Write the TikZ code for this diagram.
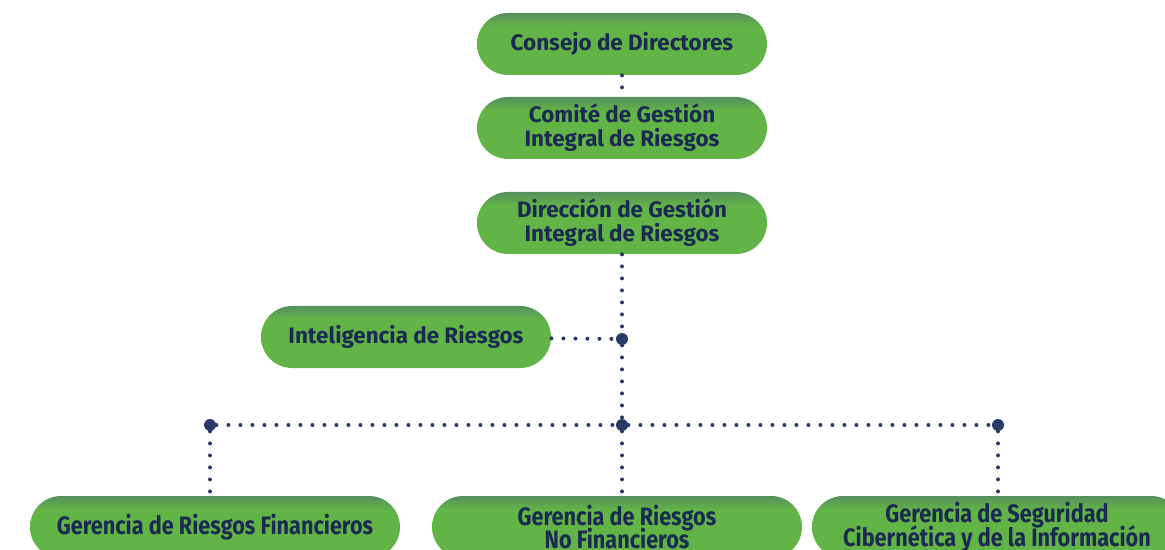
\documentclass[tikz,border=0pt]{standalone}
\usepackage{fontspec}
\setmainfont{Fira Sans}
\newfontfamily\condfont[FakeStretch=0.86]{Fira Sans}
\definecolor{boxgreen}{HTML}{63B446}
\definecolor{boxtop}{HTML}{55905E}
\definecolor{navy}{HTML}{1B2A52}
\definecolor{dotblue}{HTML}{2A3A68}
\pgfdeclareverticalshading{pillshade}{100bp}{color(0bp)=(boxgreen); color(64bp)=(boxgreen); color(75bp)=(boxtop); color(100bp)=(boxtop)}
\begin{document}
\begin{tikzpicture}[x=0.5pt,y=-0.5pt,
    pill/.style={rectangle,rounded corners=15.5pt,minimum width=145pt,minimum height=31pt,
      shading=pillshade,draw=none,
      text=navy,font=\bfseries\fontsize{11.2}{12}\selectfont,align=center,inner sep=0pt},
    widepill/.style={pill,minimum width=185pt,font=\condfont\bfseries\fontsize{12.6}{12}\selectfont},
    dots/.style={dotblue,line width=2pt,line cap=round,dash pattern=on 0pt off 6pt},
    jdot/.style={circle,fill=dotblue,inner sep=0pt,minimum size=6pt}]
        \useasboundingbox (0,0) rectangle (1165,550);
        \node at (622,44) [pill] (consejo) {Consejo de Directores};
        \node at (622,128) [pill] (comite) {Comité de Gestión\\Integral de Riesgos};
        \node at (622,223) [pill] (direccion) {Dirección de Gestión\\Integral de Riesgos};
        \node at (406,337) [pill] (inteligencia) {Inteligencia de Riesgos};
        \node at (215,527) [widepill] (gfin) {Gerencia de Riesgos Financieros};
        \node at (617,527) [widepill] (gnofin) {Gerencia de Riesgos\\[-2.5pt]No Financieros};
        \node at (997,527) [widepill] (gseg) {Gerencia de Seguridad\\[-2.5pt]Cibernética y de la Información};
        \node at (622,339) [jdot] (j1) {};
        \node at (622,425) [jdot] (j2) {};
        \node at (210,425) [jdot] (jl) {};
        \node at (998,425) [jdot] (jr) {};
        \draw[dots] (consejo) -- (comite);
        \draw[dots] (direccion) -- (j1);
        \draw[dots] (j1) -- (j2);
        \draw[dots] (j2) -- (j2 |- gnofin.north);
        \draw[dots] (inteligencia) -- (j1);
        \draw[dots] (jl) -- (j2);
        \draw[dots] (j2) -- (jr);
        \draw[dots] (jl) -- (jl |- gfin.north);
        \draw[dots] (jr) -- (jr |- gseg.north);
\end{tikzpicture}
\end{document}
